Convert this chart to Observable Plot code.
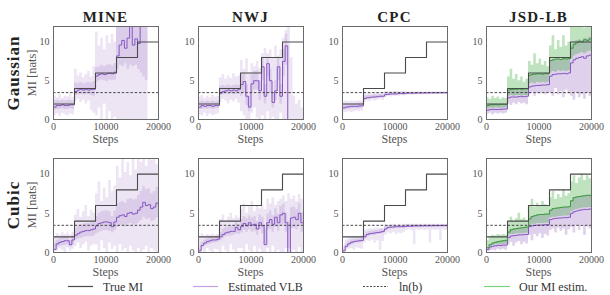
<!DOCTYPE html>
<html><head><meta charset="utf-8">
<script src="https://cdn.jsdelivr.net/npm/d3@7"></script>
<script src="https://cdn.jsdelivr.net/npm/@observablehq/plot@0.6"></script>
<style>
html,body{margin:0;padding:0;background:#fff;}
#c{position:relative;width:610px;height:295px;font-family:"Liberation Serif",serif;color:#333;overflow:hidden;}
.t{position:absolute;white-space:nowrap;transform:translate(-50%,-50%);line-height:1;}
.r{transform:translate(-50%,-50%) rotate(-90deg);}
.leg{position:absolute;white-space:nowrap;line-height:1;font-size:12px;color:#333;transform:translateY(-50%);}
#c svg text{font-family:"Liberation Serif",serif !important;}
</style></head><body><div id="c"></div>
<script>
// ---------------- data ----------------
const steps = [0,500,1000,1500,2000,2500,3000,3500,4000,4500,5000,5500,6000,6500,7000,7500,8000,8500,9000,9500,10000,10500,11000,11500,12000,12500,13000,13500,14000,14500,15000,15500,16000,16500,17000,17500,18000,18500,19000,19500,20000];
const trueSteps = [0,4000,8000,12000,16000,20000];
const trueMI = [2,4,6,8,10,10];
const lnB = 3.47;
const methods = ["MINE","NWJ","CPC","JSD-LB"];
const datasets = ["Gaussian","Cubic"];
const xTicks = [0,10000,20000];
const yTicks = [0,5,10];
const legendLabels = ["True MI","Estimated VLB","ln(b)","Our MI estim."];

// MINE – Gaussian
const mineGaussMean = [1.6,1.8,1.8,1.9,1.8,1.8,1.9,1.9, 3.6,3.8,3.9,3.8,3.9,3.8,3.9,3.9, 5.6,5.8,5.9,5.8,5.9,6.0,5.9,6.1, 8.2,9.6,10.2,9.2,10.5,13,9.6,10.4, 9.8,13,null,null,null,null,null,null,null];
const mineGaussLo = [0.5,0.7,0.4,0.8,0.6,0.5,0.7,0.6, 2.4,2.6,2.2,2.5,2.0,2.4,1.2,0.8, 0.5,1.5,0,2.0,0,1.0,0,0.3, 0,0,0,0,0,0,0,0, 0,0,0,0,0,null,null,null,null];
const mineGaussHi = [3.0,2.8,3.2,2.7,3.0,2.9,3.3,2.8, 6.5,5.6,6.0,5.4,5.8,6.2,5.5,6.8, 11.3,9.5,10.5,9.0,10.8,9.8,11.0,10.0, 12.5,12.5,12.5,12.5,12.5,12.5,12.5,12.5, 12.5,12.5,12.5,12.5,12.5,null,null,null,null];
const mineGaussCoreLo = [1.2,1.3,1.3,1.4,1.3,1.3,1.4,1.3, 3.1,3.2,3.3,3.2,3.2,3.3,3.1,3.0, 4.8,5.0,5.1,5.0,4.9,5.1,5.0,5.1, 6.5,7.0,6.8,7.2,6.5,7.0,6.8,7.0, 6.5,6.0,5.5,5.0,5.0,null,null,null,null];
const mineGaussCoreHi = [2.4,2.5,2.4,2.5,2.4,2.5,2.5,2.4, 4.7,4.6,4.8,4.6,4.7,4.8,4.7,4.9, 6.7,6.8,7.0,6.8,7.0,7.1,6.9,7.2, 12.5,12.5,12.5,12.5,12.5,12.5,12.5,12.5, 12.5,12.5,12.5,12.5,12.5,null,null,null,null];

// NWJ – Gaussian
const nwjGaussMean = [1.6,1.8,1.7,1.8,1.8,1.7,1.8,1.8, 3.4,3.6,3.7,3.8,3.7,3.8,3.7,3.9, 4.5,4.9,3.0,1.6,4.6,5.0,5.0,3.7, 6.8,3.0,7.2,5.0,2.2,3.7,6.8,3.0, 7.5,9.5,0,null,null,null,null,null,null];
const nwjGaussLo = [0.6,0.5,0.8,0.4,0.7,0.5,0.6,0.7, 2.2,2.6,2.4,2.0,2.5,2.3,2.6,2.1, 1.0,0.5,0,0,0.8,1.5,0.2,0, 0.5,0,1.0,0,0.3,0,0,0.8, 0,0,0,0,0,0,0,0,0];
const nwjGaussHi = [2.9,3.1,2.7,3.0,2.8,3.1,2.9,3.0, 5.4,5.8,5.2,5.6,5.3,5.9,5.5,5.6, 7.6,6.5,7.8,6.0,7.2,6.8,7.5,6.6, 8.5,9.2,7.8,9.0,8.0,9.5,8.2,9.0, 10.5,11.5,12,8.0,3.0,2.0,2.5,1.5,2.0];
const nwjGaussCoreLo = [1.3,1.3,1.4,1.3,1.4,1.3,1.4,1.4, 3.1,3.2,3.3,3.2,3.3,3.2,3.3,3.3, 3.0,3.5,1.8,1.0,3.5,3.8,3.8,2.5, 5.0,2.0,5.5,3.5,1.5,2.5,5.0,2.0, 5.5,7.0,0,null,null,null,null,null,null];
const nwjGaussCoreHi = [2.3,2.4,2.3,2.4,2.3,2.4,2.3,2.4, 4.3,4.4,4.3,4.5,4.3,4.4,4.5,4.4, 5.8,6.0,4.5,3.0,5.8,6.2,6.3,5.0, 8.0,4.5,8.5,6.5,3.5,5.0,8.0,4.5, 9.0,11.0,3.0,null,null,null,null,null,null];

// CPC – Gaussian
const cpcGaussMean = [1.5,1.6,1.65,1.7,1.7,1.7,1.75,1.75, 2.7,2.8,2.85,2.9,2.9,2.95,3.0,3.0, 3.2,3.25,3.3,3.3,3.3,3.35,3.35,3.35, 3.4,3.4,3.4,3.4,3.42,3.42,3.42,3.43, 3.43,3.44,3.44,3.44,3.45,3.45,3.45,3.45,3.45];
const cpcGaussLo = [0.8,0.9,1.0,0.9,1.0,1.1,1.0,1.1, 2.2,2.4,2.3,2.5,2.4,2.5,2.6,2.5, 2.8,3.0,2.9,3.0,3.0,3.0,3.1,3.0, 3.1,3.2,3.1,3.2,3.2,3.2,3.2,3.3, 3.2,3.3,3.3,3.3,3.3,3.3,3.3,3.3,3.3];
const cpcGaussHi = [2.3,2.4,2.3,2.4,2.3,2.4,2.4,2.4, 3.3,3.3,3.4,3.3,3.4,3.4,3.4,3.4, 3.6,3.6,3.6,3.6,3.6,3.6,3.6,3.6, 3.55,3.55,3.55,3.55,3.55,3.55,3.55,3.55, 3.55,3.55,3.55,3.55,3.55,3.55,3.55,3.55,3.55];
const cpcGaussCoreLo = [1.2,1.3,1.3,1.4,1.4,1.4,1.4,1.5, 2.5,2.6,2.6,2.7,2.7,2.8,2.8,2.8, 3.1,3.1,3.2,3.2,3.2,3.2,3.2,3.2, 3.3,3.3,3.3,3.3,3.3,3.3,3.3,3.3, 3.3,3.3,3.3,3.3,3.3,3.3,3.3,3.3,3.3];
const cpcGaussCoreHi = [1.9,2.0,2.0,2.0,2.0,2.0,2.1,2.1, 3.0,3.1,3.1,3.1,3.2,3.2,3.2,3.2, 3.45,3.45,3.45,3.45,3.45,3.45,3.45,3.45, 3.5,3.5,3.5,3.5,3.5,3.5,3.5,3.5, 3.5,3.5,3.5,3.5,3.5,3.5,3.5,3.5,3.5];

// JSD-LB – Gaussian
const jsdGaussVlbMean = [1.2,1.3,1.3,1.3,1.3,1.3,1.35,1.35, 2.8,2.9,2.9,2.9,2.95,2.95,2.95,3.0, 4.2,4.3,4.35,4.4,4.4,4.45,4.45,4.5, 5.6,5.8,5.85,5.9,5.9,5.95,5.9,6.0, 7.3,7.7,7.9,8.0,8.1,7.9,8.2,8.3,8.4];
const jsdGaussVlbLo = [0.7,0.8,0.6,0.8,0.7,0.8,0.7,0.8, 2.0,1.8,2.1,1.9,2.2,2.0,2.1,1.9, 3.2,3.5,3.0,3.4,3.3,3.5,3.2,3.4, 3.5,3.0,4.0,3.2,3.6,2.8,3.8,3.3, 3.0,2.5,3.5,2.8,3.2,2.6,3.4,3.0,3.2];
const jsdGaussVlbHi = [1.9,1.9,2.0,1.9,1.95,1.9,1.95,1.95, 3.8,3.85,3.9,3.9,3.95,3.9,3.95,3.95, 5.7,5.8,5.85,5.9,5.9,5.85,5.95,5.9, 7.6,7.7,7.8,7.8,7.75,7.85,7.8,7.85, 9.5,10,10.2,10.3,10.2,10.5,10.4,10.6,10.7];
const jsdGaussOurMean = [1.8,1.9,1.9,1.95,1.9,1.95,1.95,1.95, 3.8,3.85,3.9,3.9,3.95,3.9,3.95,3.95, 5.7,5.8,5.85,5.9,5.9,5.85,5.95,5.9, 7.6,7.7,7.8,7.8,7.75,7.85,7.8,7.85, 9.2,9.7,9.9,10.1,10.0,10.3,10.2,10.4,10.5];
const jsdGaussOurLo = [1.4,1.5,1.4,1.5,1.5,1.4,1.5,1.5, 3.0,3.1,3.0,3.1,3.1,3.0,3.1,3.1, 4.6,4.7,4.6,4.8,4.7,4.8,4.7,4.8, 6.0,6.2,6.1,6.3,6.2,6.3,6.2,6.3, 7.8,8.2,8.4,8.5,8.6,8.5,8.7,8.8,8.9];
const jsdGaussOurHi = [2.8,2.6,3.0,2.7,2.9,2.6,2.8,2.7, 5.5,6.5,5.2,5.8,5.0,5.5,4.8,5.2, 7.5,7.0,8.5,7.2,7.8,7.0,7.5,6.8, 9.5,10.8,9.0,10.2,9.3,10.8,9.5,10.0, 12.5,12.5,12.5,12,12.5,11.8,12.5,12,12.5];

// MINE – Cubic
const mineCubicMean = [0.4,1.1,1.3,1.4,1.5,1.5,1.0,1.6, 2.2,2.4,2.6,2.7,2.8,2.8,2.9,3.0, 3.4,3.7,3.8,3.9,3.9,3.8,3.3,3.9, 4.5,4.7,4.8,4.6,5.0,5.1,4.9,5.0, 5.4,5.8,6.4,6.0,6.1,5.6,5.8,6.3,6.1];
const mineCubicLo = [0,0.2,0.5,0.3,0,0.6,0.2,0.4, 0.8,1.2,0.5,1.0,1.3,0.2,0.8,1.0, 1.0,0.2,1.5,0.5,0,1.2,0.4,0.8, 0,1.0,0.2,0.5,0,0.8,0.2,0, 0.5,0,0.3,0.8,0,0.5,0.2,0,0.3];
const mineCubicHi = [2.0,2.4,2.2,2.6,2.3,2.5,2.2,2.6, 4.8,5.5,4.5,5.2,6.0,4.6,5.4,5.0, 7.5,9.0,6.5,8.2,7.0,9.2,7.8,8.5, 11,9.5,12,10.2,11.5,9.8,12,10.5, 12,11.5,12,11,12,11.8,12,11.2,12];
const mineCubicCoreLo = [0.4,0.7,0.8,0.9,0.9,1.0,0.7,1.0, 1.6,1.7,1.8,1.9,2.0,2.0,2.0,2.1, 2.4,2.6,2.7,2.8,2.8,2.7,2.5,2.8, 3.2,3.4,3.5,3.3,3.6,3.7,3.5,3.6, 3.8,4.1,4.5,4.2,4.3,4.0,4.1,4.4,4.3];
const mineCubicCoreHi = [1.2,1.6,1.8,1.9,2.0,2.0,1.6,2.1, 3.0,3.3,3.5,3.6,3.7,3.7,3.8,3.9, 4.6,5.0,5.2,5.3,5.3,5.2,4.6,5.3, 6.2,6.4,6.5,6.3,6.8,6.9,6.7,6.8, 7.3,7.8,8.4,8.0,8.1,7.5,7.8,8.3,8.1];

// NWJ – Cubic
const nwjCubicMean = [0.2,0.9,1.2,1.4,1.5,1.6,1.6,1.7, 2.0,2.3,2.5,2.6,2.7,2.7,3.2,2.9, 3.3,3.7,3.4,3.8,3.5,3.6,3.0,3.8, 3.4,1.0,3.8,4.2,3.6,4.5,3.8,4.8, 5.0,3.8,0,4.4,4.5,4.2,5.0,3.8,4.8];
const nwjCubicLo = [0,0.3,0,0.5,0.2,0,0.4,0.3, 0,0.8,0.2,0,1.0,0.3,0,0.5, 0.5,0,1.0,0.2,0,0.8,0,0.4, 0,0,0.5,0,0.8,0,0.3,0, 0,0.5,0,0,0.3,0,0.6,0,0];
const nwjCubicHi = [2.0,2.4,2.1,2.3,2.2,2.4,2.2,2.3, 4.2,4.8,4.0,4.5,5.0,4.3,4.7,4.4, 5.5,6.2,5.0,5.8,6.5,5.2,6.0,5.6, 6.0,5.5,6.8,6.2,7.0,6.0,6.5,6.8, 7.2,6.5,7.5,6.8,7.2,6.5,7.4,6.8,7.0];
const nwjCubicCoreLo = [0.1,0.6,0.9,1.0,1.1,1.2,1.2,1.3, 1.5,1.8,2.0,2.1,2.1,2.2,2.4,2.3, 2.5,2.8,2.6,2.9,2.6,2.7,2.2,2.9, 2.4,1.0,2.8,3.0,2.6,3.2,2.7,3.4, 3.5,2.6,0.5,3.0,3.1,2.9,3.5,2.6,3.3];
const nwjCubicCoreHi = [0.6,1.3,1.6,1.8,1.9,2.0,2.0,2.1, 2.6,3.0,3.2,3.3,3.4,3.4,3.9,3.6, 4.2,4.6,4.3,4.7,4.4,4.6,4.0,4.8, 4.5,3.0,4.9,5.3,4.7,5.6,4.9,5.9, 6.2,5.0,4.0,5.7,5.8,5.5,6.3,5.1,6.1];

// CPC – Cubic
const cpcCubicMean = [0.2,0.8,1.1,1.3,1.4,1.45,1.5,1.55, 2.0,2.3,2.4,2.45,2.5,2.55,2.6,2.7, 3.0,3.2,3.25,3.25,3.3,3.3,3.3,3.3, 3.35,3.35,3.35,3.4,3.4,3.4,3.4,3.42, 3.42,3.42,3.44,3.44,3.44,3.45,3.45,3.45,3.45];
const cpcCubicLo = [0,0.2,0.4,0.5,0.3,0.6,0.5,0.4, 1.2,1.5,1.4,1.6,1.2,1.5,0.3,1.4, 2.2,2.5,2.4,2.6,2.3,2.5,2.4,2.6, 2.8,2.9,2.8,1.0,2.9,2.8,2.9,2.8, 2.9,1.2,2.9,2.8,2.9,1.5,2.9,2.8,2.9];
const cpcCubicHi = [0.8,1.6,1.8,1.9,2.0,2.0,2.0,2.1, 2.8,2.9,3.0,3.0,3.1,3.1,3.1,3.1, 3.5,3.5,3.5,3.6,3.5,3.6,3.5,3.6, 3.6,3.6,3.6,3.6,3.6,3.6,3.6,3.6, 3.6,3.6,3.6,3.6,3.6,3.6,3.6,3.6,3.6];
const cpcCubicCoreLo = [0.1,0.5,0.8,1.0,1.1,1.2,1.2,1.3, 1.7,2.0,2.1,2.2,2.2,2.3,2.3,2.4, 2.8,3.0,3.0,3.0,3.1,3.1,3.1,3.1, 3.2,3.2,3.2,3.2,3.2,3.2,3.2,3.2, 3.2,3.2,3.2,3.2,3.2,3.2,3.2,3.2,3.2];
const cpcCubicCoreHi = [0.4,1.1,1.4,1.6,1.7,1.7,1.8,1.8, 2.3,2.6,2.7,2.7,2.8,2.8,2.9,2.9, 3.3,3.4,3.4,3.4,3.45,3.45,3.45,3.45, 3.5,3.5,3.5,3.5,3.5,3.5,3.5,3.5, 3.5,3.5,3.5,3.5,3.5,3.5,3.5,3.5,3.5];

// JSD-LB – Cubic
const jsdCubicVlbMean = [0.4,0.7,0.8,0.85,0.9,0.9,0.95,0.95, 1.9,2.1,2.15,2.2,2.25,2.25,2.3,2.3, 3.3,3.4,3.45,3.5,3.5,3.5,3.55,3.55, 4.2,4.3,4.35,4.4,4.4,4.45,4.45,4.5, 5.0,5.2,5.3,5.4,5.45,5.5,5.5,5.55,5.5];
const jsdCubicVlbLo = [0.1,0.2,0.3,0.2,0.4,0.3,0.4,0.3, 1.0,1.3,0.8,1.2,1.4,1.0,1.3,1.1, 2.2,1.5,2.3,2.0,2.4,1.8,2.3,2.1, 2.8,3.0,2.5,3.1,2.7,3.0,2.2,2.9, 3.2,2.5,3.4,2.8,3.5,2.2,3.3,3.0,3.4];
const jsdCubicVlbHi = [0.6,1.0,1.2,1.3,1.4,1.45,1.5,1.55, 2.6,2.9,3.0,3.05,3.1,3.15,3.2,3.25, 4.3,4.6,4.7,4.8,4.85,4.85,4.9,4.9, 5.4,5.6,5.65,5.7,5.75,5.8,5.8,5.85, 6.6,7.0,7.1,7.15,7.2,7.25,7.3,7.3,7.2];
const jsdCubicOurMean = [0.6,1.0,1.2,1.3,1.4,1.45,1.5,1.55, 2.6,2.9,3.0,3.05,3.1,3.15,3.2,3.25, 4.3,4.6,4.7,4.8,4.85,4.85,4.9,4.9, 5.4,5.6,5.65,5.7,5.75,5.8,5.8,5.85, 6.6,7.0,7.1,7.15,7.2,7.25,7.3,7.3,7.2];
const jsdCubicOurLo = [0.5,0.8,0.9,1.0,1.0,1.0,1.05,1.05, 2.1,2.3,2.3,2.4,2.4,2.4,2.45,2.45, 3.5,3.6,3.6,3.7,3.7,3.7,3.75,3.75, 4.4,4.5,4.5,4.6,4.6,4.65,4.65,4.7, 5.2,5.4,5.5,5.6,5.65,5.7,5.7,5.75,5.7];
const jsdCubicOurHi = [1.5,2.0,2.2,2.1,2.3,2.2,2.3,2.2, 3.8,4.5,4.0,4.3,5.0,4.2,4.4,4.1, 6.0,6.8,5.8,6.3,5.9,6.5,6.1,5.9, 7.0,7.8,6.8,7.4,7.0,8.0,7.2,7.5, 9.0,9.8,8.8,9.5,10,9.2,9.8,9.4,10];

// ---------------- layout ----------------
const PURPLE = "#9467bd", PURPLE_LINE = "#8656c2", GREEN = "#2ca02c", GREEN_LINE = "#3a9a3a", GRAY = "#4a4a4a";
const colLeft = [53, 198, 342, 486];
const rowTop = [26, 158];
const frameW = 105, frameH = [93, 94];
const mL = 26, mR = 16, mT = 4, mB = 16;
const FONT = "'Liberation Serif', serif";

const panels = [
  {col:0,row:0,vlb:[mineGaussMean,mineGaussLo,mineGaussHi,mineGaussCoreLo,mineGaussCoreHi]},
  {col:1,row:0,vlb:[nwjGaussMean,nwjGaussLo,nwjGaussHi,nwjGaussCoreLo,nwjGaussCoreHi]},
  {col:2,row:0,vlb:[cpcGaussMean,cpcGaussLo,cpcGaussHi,cpcGaussCoreLo,cpcGaussCoreHi]},
  {col:3,row:0,vlb:[jsdGaussVlbMean,jsdGaussVlbLo,jsdGaussVlbHi],ours:[jsdGaussOurMean,jsdGaussOurLo,jsdGaussOurHi]},
  {col:0,row:1,vlb:[mineCubicMean,mineCubicLo,mineCubicHi,mineCubicCoreLo,mineCubicCoreHi]},
  {col:1,row:1,vlb:[nwjCubicMean,nwjCubicLo,nwjCubicHi,nwjCubicCoreLo,nwjCubicCoreHi]},
  {col:2,row:1,vlb:[cpcCubicMean,cpcCubicLo,cpcCubicHi,cpcCubicCoreLo,cpcCubicCoreHi]},
  {col:3,row:1,vlb:[jsdCubicVlbMean,jsdCubicVlbLo,jsdCubicVlbHi],ours:[jsdCubicOurMean,jsdCubicOurLo,jsdCubicOurHi]},
];

const root = document.getElementById("c");
const trueRows = trueSteps.map((x,i)=>({x, y: trueMI[i]}));

function makePanel(p){
  const v = p.vlb, o = p.ours;
  const rows = steps.map((x,i)=>({
    x, m: v[0][i], lo: v[1][i], hi: v[2][i],
    clo: v[3] ? v[3][i] : null, chi: v[4] ? v[4][i] : null,
    om: o ? o[0][i] : null, olo: o ? o[1][i] : null, ohi: o ? o[2][i] : null
  }));
  const marks = [];
  marks.push(Plot.areaY(rows,{x:"x",y1:"lo",y2:"hi",fill:PURPLE,fillOpacity:o?0.3:0.17,curve:"step-after",clip:true}));
  if (v[3]) marks.push(Plot.areaY(rows,{x:"x",y1:"clo",y2:"chi",fill:PURPLE,fillOpacity:0.2,curve:"step-after",clip:true}));
  if (o) marks.push(Plot.areaY(rows,{x:"x",y1:"olo",y2:"ohi",fill:GREEN,fillOpacity:0.3,curve:"step-after",clip:true}));
  marks.push(Plot.line(rows,{x:"x",y:"m",stroke:PURPLE_LINE,strokeWidth:1,curve:"step-after",clip:true}));
  if (o) marks.push(Plot.line(rows,{x:"x",y:"om",stroke:GREEN_LINE,strokeWidth:1,curve:"step-after",clip:true}));
  marks.push(Plot.line(trueRows,{x:"x",y:"y",stroke:GRAY,strokeWidth:1.1,curve:"step-after"}));
  marks.push(Plot.ruleY([lnB],{stroke:"#333",strokeWidth:0.9,strokeDasharray:"2.5,1.8"}));
  marks.push(Plot.frame({stroke:"#6a6a6a",strokeWidth:1}));
  marks.push(Plot.axisX({ticks:xTicks,tickFormat:d3.format("d"),tickSize:0,tickPadding:3,label:null,fontFamily:FONT}));
  marks.push(Plot.axisY({ticks:yTicks,tickFormat:d3.format("d"),tickSize:0,tickPadding:4,label:null,fontFamily:FONT}));
  const h = frameH[p.row];
  const svg = Plot.plot({
    width: mL + frameW + mR, height: mT + h + mB,
    marginLeft: mL, marginRight: mR, marginTop: mT, marginBottom: mB,
    x: {domain:[0,20000]}, y: {domain:[0,12]},
    style: "font-family:'Liberation Serif',serif;font-size:10px;color:#555;background:transparent;overflow:visible;",
    marks
  });
  svg.setAttribute("font-family", FONT);
  svg.querySelectorAll("text").forEach(t => t.setAttribute("font-family", FONT));
  svg.style.position = "absolute";
  svg.style.left = (colLeft[p.col] - mL) + "px";
  svg.style.top = (rowTop[p.row] - mT) + "px";
  svg.style.maxWidth = "none";
  root.appendChild(svg);
}
panels.forEach(makePanel);

function text(str, x, y, css, cls){
  const d = document.createElement("div");
  d.className = "t" + (cls ? " " + cls : "");
  d.textContent = str;
  d.style.left = x + "px"; d.style.top = y + "px";
  Object.assign(d.style, css || {});
  root.appendChild(d);
}
// titles
methods.forEach((m,i)=> text(m, colLeft[i] + frameW/2, 17, {fontWeight:"bold", fontSize:"15px", letterSpacing:"1.2px", color:"#222"}));
// row labels + y labels + x labels
datasets.forEach((d,r)=>{
  const cy = rowTop[r] + frameH[r]/2;
  text(d, 12.5, cy, {fontWeight:"bold", fontSize:"17px", letterSpacing:"1px", color:"#222"}, "r");
  text("MI [nats]", 32, cy, {fontSize:"12.5px", color:"#555"}, "r");
  colLeft.forEach(l => text("Steps", l + frameW/2, rowTop[r] + frameH[r] + 20, {fontSize:"12px", color:"#555"}));
});

// legend
const legendItems = [
  {label: legendLabels[0], x0: 68, x1: 93, tx: 103, stroke: GRAY, dash: null},
  {label: legendLabels[1], x0: 193, x1: 218, tx: 228, stroke: "#c3a0e6", dash: null},
  {label: legendLabels[2], x0: 363, x1: 388, tx: 399, stroke: "#333", dash: "2,1.5"},
  {label: legendLabels[3], x0: 484, x1: 510, tx: 519, stroke: "#7fd07f", dash: null},
];
const ly = 286.5;
const ns = "http://www.w3.org/2000/svg";
const lsvg = document.createElementNS(ns, "svg");
lsvg.setAttribute("width", 610); lsvg.setAttribute("height", 295);
lsvg.style.position = "absolute"; lsvg.style.left = "0px"; lsvg.style.top = "0px";
legendItems.forEach(it=>{
  const ln = document.createElementNS(ns, "line");
  ln.setAttribute("x1", it.x0); ln.setAttribute("x2", it.x1);
  ln.setAttribute("y1", ly); ln.setAttribute("y2", ly);
  ln.setAttribute("stroke", it.stroke); ln.setAttribute("stroke-width", it.dash ? 0.9 : 1.2);
  if (it.dash) ln.setAttribute("stroke-dasharray", it.dash);
  lsvg.appendChild(ln);
  const d = document.createElement("div");
  d.className = "leg"; d.textContent = it.label;
  d.style.left = it.tx + "px"; d.style.top = ly + "px";
  root.appendChild(d);
});
root.appendChild(lsvg);
</script></body></html>
